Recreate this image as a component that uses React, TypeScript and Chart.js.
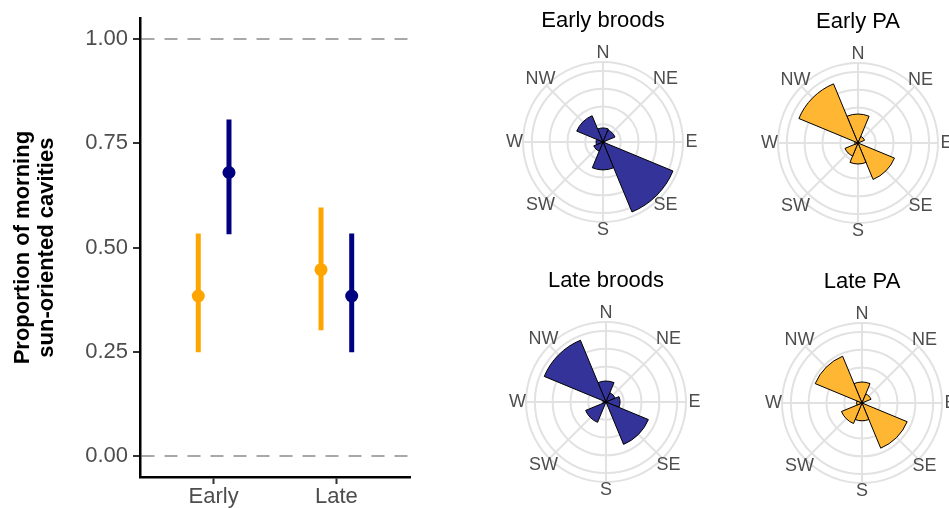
import React, { useEffect, useRef } from 'react';
import { Chart, registerables } from 'chart.js';

Chart.register(...registerables);

// ---------- data ----------
const groups = ['Early', 'Late'];
const paEstimate = [0.384, 0.447];
const paLower = [0.249, 0.302];
const paUpper = [0.534, 0.596];
const broodEstimate = [0.68, 0.384];
const broodLower = [0.532, 0.249];
const broodUpper = [0.807, 0.534];
const yTickValues = [0, 0.25, 0.5, 0.75, 1];
const yTitle = ['Proportion of morning', 'sun-oriented cavities'];

const directions = ['N', 'NE', 'E', 'SE', 'S', 'SW', 'W', 'NW'];
const earlyBroods = [0.079, 0.073, 0.011, 0.426, 0.157, 0.056, 0.039, 0.16];
const earlyPA = [0.163, 0.04, 0, 0.222, 0.118, 0.079, 0.018, 0.36];
const lateBroods = [0.118, 0.056, 0.079, 0.258, 0, 0.124, 0.017, 0.376];
const latePA = [0.118, 0.055, 0.01, 0.275, 0.1, 0.125, 0.03, 0.285];
const radialRings = [0.1, 0.2, 0.3, 0.4, 0.45];

// ---------- styles ----------
const FONT = '"Liberation Sans", Arial, Helvetica, sans-serif';
const ORANGE = '#FFA500';
const NAVY = '#000080';
const ROSE_NAVY = '#333399';
const ROSE_ORANGE = '#FFB733';
const GRID = '#E2E2E2';
const TEXT = '#4D4D4D';
const RCANVAS = 240;
const OUTER_PX = 80;
const RMAX = 0.45 * (RCANVAS / 2) / OUTER_PX;

Chart.defaults.font.family = FONT;

function PointRangeChart() {
  const ref = useRef<HTMLCanvasElement>(null);
  useEffect(() => {
    const dodge = 0.125;
    const series = [
      { est: paEstimate, lo: paLower, hi: paUpper, off: -dodge, color: ORANGE },
      { est: broodEstimate, lo: broodLower, hi: broodUpper, off: dodge, color: NAVY },
    ];
    const datasets: any[] = [];
    series.forEach((s) => {
      datasets.push({
        data: s.est.map((v, i) => ({ x: i + 1 + s.off, y: v })),
        pointRadius: 6.5,
        pointHoverRadius: 6.5,
        pointBackgroundColor: s.color,
        pointBorderColor: s.color,
        pointBorderWidth: 0,
        showLine: false,
      });
      s.est.forEach((_, i) => {
        datasets.push({
          data: [
            { x: i + 1 + s.off, y: s.lo[i] },
            { x: i + 1 + s.off, y: s.hi[i] },
          ],
          showLine: true,
          borderColor: s.color,
          borderWidth: 5,
          borderCapStyle: 'butt',
          pointRadius: 0,
          pointHoverRadius: 0,
        });
      });
    });
    const chart = new Chart(ref.current as HTMLCanvasElement, {
      type: 'scatter',
      data: { datasets },
      options: {
        responsive: false,
        animation: false,
        devicePixelRatio: 1,
        events: [],
        layout: { padding: { top: 17, right: 20, left: 0, bottom: 0 } },
        plugins: { legend: { display: false }, tooltip: { enabled: false } },
        scales: {
          x: {
            type: 'linear',
            min: 0.4,
            max: 2.6,
            afterBuildTicks: (s: any) => {
              s.ticks = groups.map((_, i) => ({ value: i + 1 }));
            },
            afterFit: (s: any) => {
              s.height = 31;
            },
            ticks: {
              callback: (v: any) => groups[Math.round(Number(v)) - 1] ?? '',
              font: { family: FONT, size: 22 },
              color: TEXT,
              padding: 0,
              maxRotation: 0,
              autoSkip: false,
            },
            grid: {
              drawOnChartArea: false,
              drawTicks: true,
              tickLength: 7,
              tickColor: '#333333',
              tickWidth: 2,
            },
            border: { display: true, color: '#000000', width: 2.5 },
          },
          y: {
            type: 'linear',
            min: -0.05,
            max: 1.05,
            afterBuildTicks: (s: any) => {
              s.ticks = yTickValues.map((v) => ({ value: v }));
            },
            afterFit: (s: any) => {
              s.width = 140;
            },
            ticks: {
              callback: (v: any) => Number(v).toFixed(2),
              font: { family: FONT, size: 22 },
              color: TEXT,
              padding: 5,
              autoSkip: false,
            },
            grid: {
              color: (ctx: any) =>
                ctx.tick && (ctx.tick.value === 0 || ctx.tick.value === 1)
                  ? '#A8A8A8'
                  : 'rgba(0,0,0,0)',
              lineWidth: 2,
              drawTicks: true,
              tickLength: 7,
              tickColor: '#333333',
              tickWidth: 2,
            },
            border: { display: true, color: '#000000', width: 2.5, dash: [13, 10] },
            title: {
              display: true,
              text: yTitle,
              font: { family: FONT, size: 22, weight: 'bold', lineHeight: 24 / 22 },
              color: '#000000',
              padding: { top: 11, bottom: 0 },
            },
          },
        },
      } as any,
    });
    return () => chart.destroy();
  }, []);
  return (
    <canvas
      ref={ref}
      width={430}
      height={508}
      style={{ position: 'absolute', left: 0, top: 0, width: 430, height: 508 }}
    />
  );
}

const compassPlugin = {
  id: 'compass',
  beforeDatasetsDraw(chart: any) {
    const s = chart.scales.r;
    const ctx = chart.ctx as CanvasRenderingContext2D;
    const R = s.getDistanceFromCenterForValue(radialRings[radialRings.length - 1]);
    ctx.save();
    ctx.strokeStyle = GRID;
    ctx.lineWidth = 2;
    directions.forEach((_, i) => {
      const a = (i * Math.PI) / 4;
      ctx.beginPath();
      ctx.moveTo(s.xCenter, s.yCenter);
      ctx.lineTo(s.xCenter + R * Math.sin(a), s.yCenter - R * Math.cos(a));
      ctx.stroke();
    });
    ctx.restore();
  },
  afterDraw(chart: any) {
    const s = chart.scales.r;
    const ctx = chart.ctx as CanvasRenderingContext2D;
    const R = s.getDistanceFromCenterForValue(radialRings[radialRings.length - 1]) + 8.5;
    ctx.save();
    ctx.fillStyle = TEXT;
    ctx.font = `18px ${FONT}`;
    ctx.textAlign = 'center';
    ctx.textBaseline = 'middle';
    directions.forEach((d, i) => {
      const a = (i * Math.PI) / 4;
      ctx.fillText(d, s.xCenter + R * Math.sin(a), s.yCenter - R * Math.cos(a));
    });
    ctx.restore();
  },
};

function RoseChart(props: { values: number[]; color: string; title: string; cx: number; cy: number }) {
  const { values, color, title, cx, cy } = props;
  const ref = useRef<HTMLCanvasElement>(null);
  useEffect(() => {
    const chart = new Chart(ref.current as HTMLCanvasElement, {
      type: 'polarArea',
      data: {
        labels: directions,
        datasets: [
          {
            data: values,
            backgroundColor: color,
            borderColor: '#000000',
            borderWidth: 1,
          },
        ],
      },
      options: {
        responsive: false,
        animation: false,
        devicePixelRatio: 1,
        events: [],
        layout: { padding: 0 },
        plugins: { legend: { display: false }, tooltip: { enabled: false } },
        scales: {
          r: {
            min: 0,
            max: RMAX,
            startAngle: -22.5,
            ticks: { display: false },
            afterBuildTicks: (s: any) => {
              s.ticks = [0, ...radialRings].map((v) => ({ value: v }));
            },
            grid: { circular: true, color: GRID, lineWidth: 2 },
            angleLines: { display: false },
            pointLabels: { display: false },
          },
        },
      } as any,
      plugins: [compassPlugin],
    });
    return () => chart.destroy();
  }, []);
  return (
    <>
      <canvas
        ref={ref}
        width={RCANVAS}
        height={RCANVAS}
        style={{
          position: 'absolute',
          left: Math.round(cx - RCANVAS / 2),
          top: Math.round(cy - RCANVAS / 2),
          width: RCANVAS,
          height: RCANVAS,
        }}
      />
      <div
        style={{
          position: 'absolute',
          left: cx - 100,
          width: 200,
          top: cy - 133.4,
          textAlign: 'center',
          fontFamily: FONT,
          fontSize: 22,
          lineHeight: '22px',
          color: '#000000',
          whiteSpace: 'nowrap',
        }}
      >
        {title}
      </div>
    </>
  );
}

export default function App() {
  return (
    <div
      style={{
        position: 'fixed',
        left: 0,
        top: 0,
        width: 949,
        height: 508,
        overflow: 'hidden',
        background: '#ffffff',
      }}
    >
      <PointRangeChart />
      <RoseChart values={earlyBroods} color={ROSE_NAVY} title="Early broods" cx={603} cy={142} />
      <RoseChart values={earlyPA} color={ROSE_ORANGE} title="Early PA" cx={858} cy={143} />
      <RoseChart values={lateBroods} color={ROSE_NAVY} title="Late broods" cx={606} cy={402} />
      <RoseChart values={latePA} color={ROSE_ORANGE} title="Late PA" cx={862} cy={403} />
    </div>
  );
}
